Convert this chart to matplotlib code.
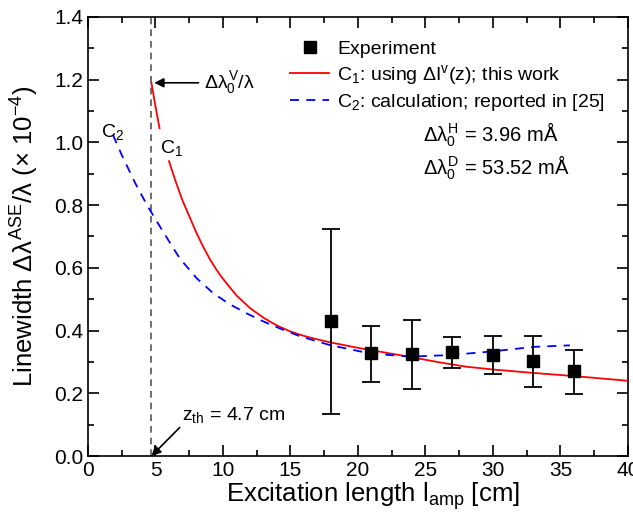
import matplotlib
matplotlib.use('Agg')
import matplotlib.pyplot as plt
from matplotlib.lines import Line2D
import numpy as np

plt.rcParams['font.family'] = ['Liberation Sans', 'DejaVu Sans']
plt.rcParams['mathtext.fontset'] = 'custom'
plt.rcParams['mathtext.rm'] = 'Liberation Sans'
plt.rcParams['mathtext.it'] = 'Liberation Sans'

# experiment: excitation length [cm], linewidth (x 1e-4), error bar ends
exp_x = [18, 21, 24, 27, 30, 33, 36]
exp_y = [0.43, 0.327, 0.326, 0.331, 0.322, 0.303, 0.271]
exp_hi = [0.724, 0.415, 0.434, 0.379, 0.382, 0.384, 0.338]
exp_lo = [0.135, 0.237, 0.215, 0.280, 0.261, 0.221, 0.199]

# C1: using dI^v(z); this work
c1_x = [4.7, 5.0, 5.3, 5.5, 6.0, 6.5, 7.0, 7.5, 8.0, 8.5, 9.0, 9.5, 10.0, 11.0, 12.0, 13.0, 14.0, 15.0, 16.0,
        17.0, 18.0, 20.0, 22.0, 24.0, 26.0, 28.0, 30.0, 33.0, 36.0, 40.0]
c1_y = [1.19, 1.115, 1.045, 1.01, 0.94, 0.875, 0.815, 0.765, 0.715, 0.67, 0.63, 0.595, 0.565, 0.512, 0.472,
        0.441, 0.416, 0.397, 0.383, 0.372, 0.362, 0.345, 0.330, 0.315, 0.299, 0.285, 0.276, 0.265, 0.255, 0.240]

# C2: calculation; reported in [25]
c2_x = [1.85, 2.5, 3.0, 3.5, 4.0, 4.44, 5.0, 5.5, 6.0, 6.8, 7.5, 8.05, 9.28, 10.5, 11.75, 13.0, 14.2, 15.7,
        17.9, 20.9, 23.85, 26.8, 29.8, 33.0, 35.7]
c2_y = [1.024, 0.96, 0.915, 0.87, 0.83, 0.795, 0.755, 0.72, 0.685, 0.63, 0.595, 0.567, 0.519, 0.484, 0.455,
        0.429, 0.407, 0.382, 0.354, 0.327, 0.317, 0.322, 0.333, 0.348, 0.353]

z_th = 4.7

fig = plt.figure(figsize=(6.33, 5.13), dpi=100)
ax = fig.add_axes([0.139, 0.111, 0.853, 0.856])

ax.axvline(z_th, color='#555555', ls=(0, (4, 3)), lw=1.2, zorder=1)

# red line has a gap where the C1 label sits
c1_x = np.array(c1_x)
c1_y = np.array(c1_y)
c1_y_plot = np.where((c1_x > 5.35) & (c1_x < 5.95), np.nan, c1_y)
l1, = ax.plot(c1_x, c1_y_plot, color='red', lw=1.3, zorder=3)
l2, = ax.plot(c2_x, c2_y, color='blue', lw=1.3, ls=(0, (5, 4)), zorder=3)

yerr = [np.array(exp_y) - np.array(exp_lo), np.array(exp_hi) - np.array(exp_y)]
ax.errorbar(exp_x, exp_y, yerr=yerr, fmt='s', color='black', ms=9, capsize=6.7,
            elinewidth=1.3, capthick=1.3, zorder=4)

ax.set_xlim(0, 40)
ax.set_ylim(0, 1.4)
ax.set_xticks(np.arange(0, 41, 5))
ax.set_xticks(np.arange(0, 41, 2.5), minor=True)
ax.set_yticks(np.arange(0, 1.41, 0.2))
ax.set_yticks(np.arange(0, 1.41, 0.1), minor=True)
ax.set_yticklabels(['%.1f' % v for v in np.arange(0, 1.41, 0.2)])
ax.tick_params(which='both', direction='in', top=True, right=True, labelsize=15, width=1.2)
ax.tick_params(which='major', length=8)
ax.tick_params(which='minor', length=4)
for s in ax.spines.values():
    s.set_linewidth(1.2)

ax.set_xlabel(r'Excitation length l$_\mathrm{amp}$ [cm]', fontsize=18.5, labelpad=1)
ax.xaxis.set_label_coords(0.528, -0.055)
ax.set_ylabel(r'Linewidth $\Delta\lambda^\mathrm{ASE}/\lambda$ ($\times$ 10$^{-4}$)', fontsize=18.5, labelpad=9)

exp_handle = Line2D([], [], marker='s', ls='none', color='black', ms=9)
ax.legend([exp_handle, l1, l2],
          ['Experiment', r'C$_1$: using $\Delta$I$^\mathrm{v}$(z); this work', r'C$_2$: calculation; reported in [25]'],
          loc='upper right', bbox_to_anchor=(0.99, 0.986), frameon=False, fontsize=14, handlelength=2.0,
          handletextpad=0.4, labelspacing=0.25)

ax.text(1.0, 1.0, r'C$_2$', fontsize=14, ha='left', va='bottom')
ax.text(5.3, 0.95, r'C$_1$', fontsize=14, ha='left', va='bottom')
ax.text(24.8, 1.024, r'$\Delta\lambda_0^\mathrm{H}$ = 3.96 mÅ', fontsize=14.5, va='center')
ax.text(24.8, 0.92, r'$\Delta\lambda_0^\mathrm{D}$ = 53.52 mÅ', fontsize=14.5, va='center')

ax.annotate(r'$\Delta\lambda_0^\mathrm{V}/\lambda$', xy=(z_th, 1.19), xytext=(8.6, 1.19),
            fontsize=14, va='center',
            arrowprops=dict(arrowstyle='-|>', color='black', lw=1.2, mutation_scale=14))
ax.annotate(r'z$_\mathrm{th}$ = 4.7 cm', xy=(z_th, 0.0), xytext=(7.0, 0.10),
            fontsize=14, va='bottom',
            arrowprops=dict(arrowstyle='-|>', color='black', lw=1.2, mutation_scale=14,
                            shrinkA=0, shrinkB=0, relpos=(0, 0)))

fig.savefig('out.png', dpi=100)
